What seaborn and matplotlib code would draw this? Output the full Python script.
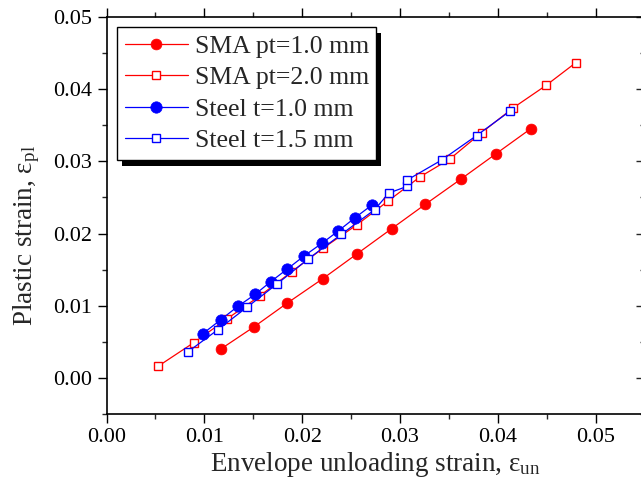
import matplotlib
matplotlib.use("Agg")
import matplotlib.pyplot as plt
import seaborn as sns
from matplotlib.ticker import MultipleLocator, FormatStrFormatter, NullFormatter
from matplotlib.patches import Rectangle

# ---- data ----
sma1_x = [0.01167, 0.01508, 0.01848, 0.0221, 0.02563, 0.02915, 0.03258, 0.03625, 0.03981, 0.04339]
sma1_y = [0.00402, 0.0071, 0.01039, 0.01375, 0.01722, 0.02068, 0.02404, 0.02756, 0.03104, 0.03453]

sma2_x = [0.00529, 0.00894, 0.01229, 0.01569, 0.01893, 0.02216, 0.02557, 0.0288, 0.03204,
          0.03511, 0.03835, 0.04158, 0.04492, 0.04796]
sma2_y = [0.00166, 0.00493, 0.00817, 0.0114, 0.01472, 0.018, 0.02119, 0.02452, 0.02784,
          0.03033, 0.03398, 0.0374, 0.04049, 0.04363]

steel1_x = [0.00983, 0.01167, 0.01341, 0.01518, 0.01678, 0.01848, 0.02019, 0.022, 0.02369, 0.02537, 0.02714]
steel1_y = [0.00614, 0.00807, 0.00992, 0.01158, 0.01334, 0.0151, 0.0169, 0.01864, 0.02036, 0.02216, 0.02396]

steel15_x = [0.00836, 0.01137, 0.01433, 0.01746, 0.0206, 0.024, 0.02741, 0.02887, 0.03076,
             0.03068, 0.03428, 0.03782, 0.04124]
steel15_y = [0.00368, 0.00669, 0.00978, 0.01306, 0.01648, 0.01989, 0.02331, 0.02562, 0.02654,
             0.02737, 0.03019, 0.03355, 0.03693]

labels = ["SMA pt=1.0 mm", "SMA pt=2.0 mm", "Steel t=1.0 mm", "Steel t=1.5 mm"]
x_ticks = [0.00, 0.01, 0.02, 0.03, 0.04, 0.05]
y_ticks = [0.00, 0.01, 0.02, 0.03, 0.04, 0.05]

sns.set_style("ticks")
plt.rcParams["font.family"] = ["Liberation Serif", "DejaVu Serif"]
plt.rcParams["mathtext.fontset"] = "custom"
plt.rcParams["mathtext.rm"] = "Liberation Serif"
plt.rcParams["mathtext.it"] = "Liberation Serif:italic"

W, H = 641, 488
fig = plt.figure(figsize=(W / 100, H / 100), dpi=100)
ax_l, ax_r = 106.5, 644.6
ax_t, ax_b = 16.7, 414.3
ax = fig.add_axes([ax_l / W, 1 - ax_b / H, (ax_r - ax_l) / W, (ax_b - ax_t) / H])

RED = "#ff0000"
BLUE = "#0000ff"
common = dict(estimator=None, sort=False, ax=ax, linewidth=0.9)

sns.lineplot(x=sma1_x, y=sma1_y, color=RED, marker="o", markersize=7.8,
             markerfacecolor=RED, markeredgecolor=RED, markeredgewidth=0.5,
             label=labels[0], **common)
sns.lineplot(x=sma2_x, y=sma2_y, color=RED, marker="s", markersize=6.2,
             markerfacecolor="white", markeredgecolor=RED, markeredgewidth=1.0,
             label=labels[1], **common)
sns.lineplot(x=steel1_x, y=steel1_y, color=BLUE, marker="o", markersize=8.2,
             markerfacecolor=BLUE, markeredgecolor=BLUE, markeredgewidth=0.5,
             label=labels[2], **common)
sns.lineplot(x=steel15_x, y=steel15_y, color=BLUE, marker="s", markersize=6.2,
             markerfacecolor="white", markeredgecolor=BLUE, markeredgewidth=1.0,
             label=labels[3], **common)

ax.set_xlim(0, 0.055)
ax.set_ylim(-0.005, 0.05)
ax.set_xticks(x_ticks)
ax.set_yticks(y_ticks)
ax.xaxis.set_minor_locator(MultipleLocator(0.005))
ax.yaxis.set_minor_locator(MultipleLocator(0.005))
ax.xaxis.set_major_formatter(FormatStrFormatter("%.2f"))
ax.yaxis.set_major_formatter(FormatStrFormatter("%.2f"))

for s in ax.spines.values():
    s.set_visible(True)
    s.set_linewidth(1.2)
    s.set_color("black")

ax.tick_params(which="major", direction="out", length=6.2, width=1.0,
               labelsize=16, colors="black", pad=4)
ax.tick_params(which="minor", direction="out", length=3.6, width=1.0)
ax.tick_params(axis="x", which="both", top=True, labeltop=False)
ax.tick_params(axis="y", which="both", right=False)

# right-hand ticks point inward (as in the reference)
sec = ax.secondary_yaxis("right")
sec.set_yticks(y_ticks)
sec.yaxis.set_minor_locator(MultipleLocator(0.005))
sec.yaxis.set_major_formatter(NullFormatter())
sec.tick_params(which="major", direction="in", length=6.2, width=1.0)
sec.tick_params(which="minor", direction="in", length=3.6, width=1.0)
sec.spines["right"].set_linewidth(1.2)

ax.set_xlabel(r"Envelope unloading strain, ε$_{\mathrm{un}}$", fontsize=19.5, labelpad=2)
ax.set_ylabel(r"Plastic strain, ε$_{\mathrm{pl}}$", fontsize=19.5)
ax.yaxis.set_label_coords(-0.12, 0.45)

leg = ax.legend(loc="upper left", bbox_to_anchor=(117 / W, 1 - 27 / H),
                bbox_transform=fig.transFigure, borderaxespad=0,
                fontsize=18.5, frameon=True, fancybox=False, framealpha=1,
                edgecolor="black", handlelength=2.45, handletextpad=0.27,
                borderpad=0.3, labelspacing=0.33)
leg.get_frame().set_linewidth(1.0)
leg.set_zorder(10)

fig.canvas.draw()
bb = leg.get_window_extent()
shadow = Rectangle((bb.x0 + 5, bb.y0 - 6), bb.width, bb.height, transform=None,
                   facecolor="black", edgecolor="none", zorder=9.5, clip_on=False)
ax.add_artist(shadow)

fig.savefig("out.png", dpi=100)
